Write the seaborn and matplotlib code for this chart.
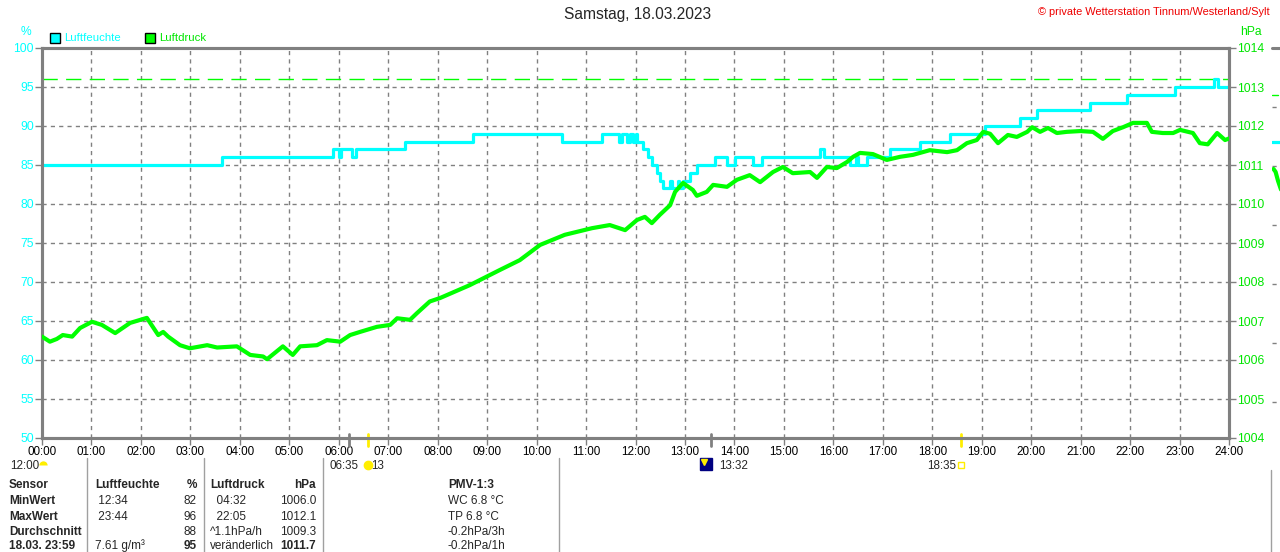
import matplotlib
matplotlib.use("Agg")

import numpy as np
import pandas as pd
import matplotlib.pyplot as plt
import matplotlib.transforms as mtransforms
from matplotlib.patches import Rectangle
import seaborn as sns


# humidity (%) - stepped series, hours since midnight
hum_time = [0.00, 3.64, 5.88, 6.00, 6.05, 6.27, 6.35, 7.34, 8.71, 10.51,
            11.32, 11.67, 11.72, 11.83, 11.88, 11.95, 12.00, 12.03, 12.15, 12.25,
            12.33, 12.43, 12.49, 12.56, 12.70, 12.74, 12.85, 12.88, 12.96, 13.10,
            13.24, 13.61, 13.85, 14.01, 14.38, 14.56, 15.73, 15.81, 16.34, 16.45,
            16.50, 16.68, 17.14, 17.75, 18.36, 19.07, 19.77, 20.12, 21.19, 21.94,
            22.91, 23.70, 23.78, 24.00]
hum_value = [85, 86, 87, 86, 87, 86, 87, 88, 89, 88,
             89, 88, 89, 88, 89, 88, 89, 88, 87, 86,
             85, 84, 83, 82, 83, 82, 83, 82, 83, 84,
             85, 86, 85, 86, 85, 86, 87, 86, 85, 86,
             85, 86, 87, 88, 89, 90, 91, 92, 93, 94,
             95, 96, 95, 95]

# air pressure (hPa)
press_time = [0.00, 0.16, 0.30, 0.42, 0.61, 0.77, 1.01, 1.21, 1.48, 1.78,
              2.12, 2.35, 2.45, 2.55, 2.79, 2.99, 3.34, 3.54, 3.94, 4.21,
              4.47, 4.55, 4.87, 5.07, 5.22, 5.56, 5.76, 6.03, 6.23, 6.43,
              6.77, 7.04, 7.18, 7.44, 7.58, 7.84, 8.05, 8.65, 9.26, 9.66,
              10.07, 10.57, 11.12, 11.48, 11.79, 12.03, 12.19, 12.33, 12.49, 12.70,
              12.80, 12.96, 13.16, 13.24, 13.44, 13.57, 13.85, 14.05, 14.31, 14.52,
              14.78, 14.98, 15.18, 15.53, 15.67, 15.87, 16.07, 16.28, 16.40, 16.54,
              16.80, 17.08, 17.35, 17.61, 17.95, 18.30, 18.50, 18.70, 18.90, 19.03,
              19.17, 19.33, 19.53, 19.71, 19.92, 20.02, 20.18, 20.34, 20.52, 20.72,
              20.99, 21.25, 21.45, 21.65, 21.86, 22.06, 22.34, 22.44, 22.66, 22.87,
              23.01, 23.27, 23.41, 23.57, 23.76, 23.92, 24.00]
press_value = [1006.60, 1006.47, 1006.54, 1006.64, 1006.60, 1006.82, 1006.98, 1006.90, 1006.69, 1006.95,
               1007.08, 1006.64, 1006.72, 1006.60, 1006.38, 1006.30, 1006.38, 1006.32, 1006.35, 1006.13,
               1006.09, 1006.02, 1006.35, 1006.13, 1006.35, 1006.38, 1006.51, 1006.47, 1006.64, 1006.72,
               1006.85, 1006.90, 1007.07, 1007.03, 1007.20, 1007.50, 1007.59, 1007.92, 1008.31, 1008.56,
               1008.95, 1009.21, 1009.38, 1009.46, 1009.33, 1009.59, 1009.67, 1009.51, 1009.72, 1009.97,
               1010.31, 1010.54, 1010.36, 1010.21, 1010.31, 1010.49, 1010.44, 1010.62, 1010.74, 1010.56,
               1010.82, 1010.95, 1010.79, 1010.82, 1010.67, 1010.95, 1010.92, 1011.08, 1011.21, 1011.31,
               1011.28, 1011.13, 1011.21, 1011.26, 1011.38, 1011.33, 1011.38, 1011.56, 1011.64, 1011.85,
               1011.80, 1011.56, 1011.77, 1011.72, 1011.85, 1011.97, 1011.85, 1011.95, 1011.82, 1011.85,
               1011.87, 1011.85, 1011.67, 1011.87, 1011.97, 1012.08, 1012.08, 1011.85, 1011.82, 1011.82,
               1011.90, 1011.82, 1011.56, 1011.53, 1011.82, 1011.64, 1011.68]

hum_max = 96

hour_ticks = list(range(25))
hour_labels = [f"{h:02d}:00" for h in hour_ticks]
hum_ticks = list(range(50, 101, 5))
press_ticks = list(range(1004, 1015))

sunrise = 6 + 35 / 60
sunset = 18 + 35 / 60
moonrise = 6 + 13 / 60
moonset = 13 + 32 / 60

table_header = ["Sensor", "Luftfeuchte", "%", "Luftdruck", "hPa", "PMV-1:3"]
table_rows = [
    ["MinWert", " 12:34", "82", "  04:32", "1006.0", "WC 6.8 °C"],
    ["MaxWert", " 23:44", "96", "  22:05", "1012.1", "TP 6.8 °C"],
    ["Durchschnitt", "", "88", "^1.1hPa/h", "1009.3", "-0.2hPa/3h"],
    ["18.03. 23:59", "7.61 g/m³", "95", "veränderlich", "1011.7", "-0.2hPa/1h"],
]

# cropped start of the next day's chart at the right edge
strip_grid = [0, 1, 2, 3, 4, 5]
strip_hum = [4.41, 4.41]
strip_press_dash = [5.2, 5.2]
strip_press = [3.95, 3.9, 3.75, 3.6]

CYAN = "#00ffff"
GREEN = "#00ff00"
GREEN_TXT = "#00e600"
GREY = "#808080"

sns.set_style("white")
plt.rcParams["font.family"] = ["Liberation Sans", "DejaVu Sans"]

W, H = 1280, 552
fig = plt.figure(figsize=(W / 100, H / 100), dpi=100)

ax = fig.add_axes([42 / W, 1 - 438 / H, (1229 - 42) / W, 390 / H])
ax.set_xlim(0, 24)
ax.set_ylim(50, 100)

ax.set_xticks(hour_ticks)
ax.set_xticklabels(hour_labels)
ax.set_yticks(hum_ticks)
ax.grid(True, color=GREY, linestyle=(0, (3, 3)), linewidth=1)
ax.set_axisbelow(True)

ax.axhline(hum_max, color=GREEN, linewidth=1, dashes=(11, 6), zorder=1)

hum_df = pd.DataFrame({"time": hum_time, "value": hum_value})
sns.lineplot(data=hum_df, x="time", y="value", ax=ax, color=CYAN,
             linewidth=2.3, drawstyle="steps-post", estimator=None, zorder=3)

ax2 = ax.twinx()
ax2.set_ylim(1004, 1014)
ax2.set_yticks(press_ticks)

press_df = pd.DataFrame({"time": press_time, "value": press_value})
sns.lineplot(data=press_df, x="time", y="value", ax=ax2, color=GREEN,
             linewidth=3.0, estimator=None, zorder=4)

for a in (ax, ax2):
    a.set_xlabel("")
    a.set_ylabel("")
    for s in a.spines.values():
        s.set_color(GREY)
        s.set_linewidth(2.2)
        s.set_visible(True)

ax.tick_params(axis="x", direction="out", length=5, width=1, color=GREY,
               labelsize=8.4, labelcolor="black", pad=1, bottom=True)
ax.tick_params(axis="y", direction="out", length=5, width=1, color=GREY,
               labelsize=8.7, labelcolor=CYAN, pad=1, left=True)
ax2.tick_params(axis="y", direction="out", length=5, width=1, color=GREY,
                labelsize=8.7, labelcolor=GREEN_TXT, pad=1, right=True)

# sun / moon marks under the time axis
trans = mtransforms.blended_transform_factory(ax.transData, ax.transAxes)
px = 1 / 390
for t, c in [(moonrise, GREY), (moonset, GREY), (sunrise, "#ffee00"), (sunset, "#ffee00")]:
    ax.plot([t, t], [4 * px, -8 * px], color=c, linewidth=2, transform=trans,
            clip_on=False, zorder=5)

y_sym = -27 * px
ax.plot([sunrise], [y_sym], marker="o", markersize=6, color="#ffee00",
        transform=trans, clip_on=False)
ax.plot([0.03], [y_sym], marker="o", markersize=6, fillstyle="top",
        markerfacecoloralt="none", color="#ffee00", markeredgewidth=0,
        transform=trans, clip_on=False)
ax.plot([sunset], [y_sym], marker="s", markersize=5, markerfacecolor="none",
        markeredgecolor="#ffee00", markeredgewidth=1, transform=trans, clip_on=False)
ax.plot([moonset - 0.1], [y_sym + 1 * px], marker="s", markersize=9, color="#000080",
        transform=trans, clip_on=False)
ax.plot([moonset - 0.14], [y_sym + 3 * px], marker="v", markersize=4, color="#ffee00",
        transform=trans, clip_on=False)

y_txt = 1 - 466 / H
fig.text(10 / W, y_txt, "12:00", fontsize=8.4, va="center", ha="left")
fig.text(359 / W, y_txt, "06:35", fontsize=8.4, va="center", ha="right")
fig.text(371 / W, y_txt, "13", fontsize=8.4, va="center", ha="left")
fig.text(719 / W, y_txt, "13:32", fontsize=8.4, va="center", ha="left")
fig.text(956 / W, y_txt, "18:35", fontsize=8.4, va="center", ha="right")

# titles and legend
fig.text(638 / W, 1 - 15 / H, "Samstag, 18.03.2023", fontsize=11.2,
         ha="center", va="center")
fig.text(1270 / W, 1 - 12 / H, "© private Wetterstation Tinnum/Westerland/Sylt",
         fontsize=7.9, color="#ee0000", ha="right", va="center")
fig.text(26 / W, 1 - 32 / H, "%", fontsize=8.7, color=CYAN, ha="center", va="center")
fig.text(1240 / W, 1 - 32 / H, "hPa", fontsize=8.7, color=GREEN_TXT, ha="left", va="center")

for x0, col, lab in [(50, CYAN, "Luftfeuchte"), (145, GREEN, "Luftdruck")]:
    fig.patches.append(Rectangle((x0 / W, 1 - 43 / H), 10 / W, 10 / H,
                                 facecolor=col, edgecolor="black", linewidth=1,
                                 transform=fig.transFigure, figure=fig))
    fig.text((x0 + 14) / W, 1 - 38 / H, lab, fontsize=8.2,
             color=GREEN_TXT if col == GREEN else CYAN, ha="left", va="center")

# statistics table
row_y = [485, 501, 517, 532, 546]
col_x = [9, 95, 197, 210, 316, 448]
col_ha = ["left", "left", "right", "left", "right", "left"]
for j, txt in enumerate(table_header):
    fig.text(col_x[j] / W, 1 - row_y[0] / H, txt, fontsize=8.5, fontweight="bold",
             ha=col_ha[j], va="center")
for i, row in enumerate(table_rows):
    last = i == len(table_rows) - 1
    for j, txt in enumerate(row):
        bold = j == 0 or (last and j in (2, 4))
        fig.text(col_x[j] / W, 1 - row_y[i + 1] / H, txt, fontsize=8.5,
                 fontweight="bold" if bold else "normal", ha=col_ha[j], va="center")

for xl, y0 in [(87, 458), (204, 458), (323, 458), (559, 458), (1271, 470)]:
    fig.add_artist(plt.Line2D([xl / W, xl / W], [1 - y0 / H, 0], color="#a0a0a0",
                              linewidth=1, transform=fig.transFigure))

# cropped next chart at right edge
ax3 = fig.add_axes([1272 / W, 1 - 438 / H, 30 / W, 390 / H])
ax3.set_xlim(0, 1)
ax3.set_ylim(-0.61, 6.0)
for g in strip_grid:
    ax3.axhline(g, color=GREY, linestyle=(0, (3, 3)), linewidth=1)
ax3.plot([0, 1], strip_hum, color=CYAN, linewidth=2.3)
ax3.plot([0, 0.2], strip_press_dash, color=GREEN, linewidth=1)
ax3.plot([0.05, 0.12, 0.2, 0.3], strip_press, color=GREEN, linewidth=3)
ax3.axis("off")
ax3.axhline(6.0, color=GREY, linewidth=2.2, clip_on=False)

fig.savefig("out.png", dpi=100)
